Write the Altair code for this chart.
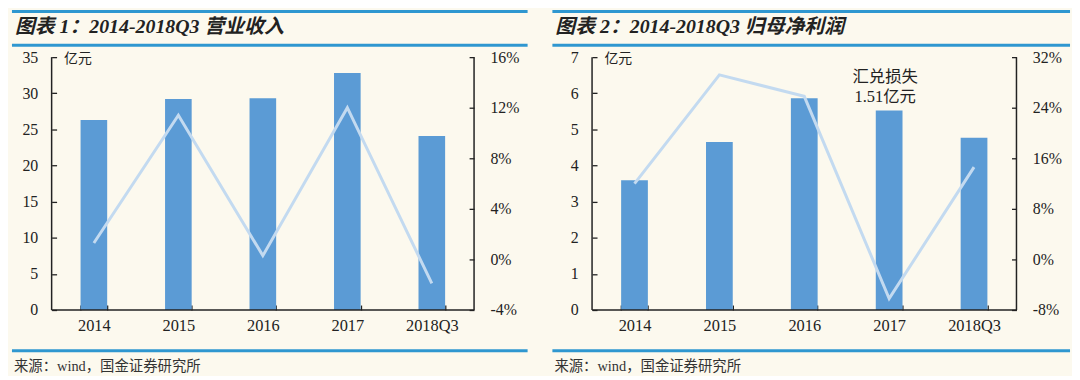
import altair as alt
import pandas as pd

cats = ["2014", "2015", "2016", "2017", "2018Q3"]
revenue = [26.3, 29.2, 29.3, 32.8, 24.1]
revenue_growth = [1.3, 11.4, 0.3, 12.0, -1.9]
profit = [3.59, 4.65, 5.86, 5.52, 4.77]
profit_growth = [12.0, 29.2, 25.8, -6.2, 14.6]
titles = ["图表 1：2014-2018Q3 营业收入", "图表 2：2014-2018Q3 归母净利润"]
source = "来源：wind，国金证券研究所"
unit = "亿元"
ann_cat = ["2017", "2017"]
ann_val = [6.45, 5.9]
ann_text = ["汇兑损失", "1.51亿元"]

SERIF = "Liberation Serif, Noto Sans CJK SC"
BAR = "#5B9BD5"
LINE = "#C3DAF0"
BLUE = "#2F97D0"
AX = "#222222"
H = 255


def panel(vals, growth, ymax, ystep, rmin, rmax, rstep, title, W, ann=None):
    df = pd.DataFrame({"cat": cats, "val": vals, "g": growth})
    xs = alt.Scale(domain=cats, paddingInner=0.685, paddingOuter=0.3425)
    xaxis = alt.Axis(title=None, labelAngle=0, labelFont=SERIF, labelFontSize=16.5,
                     labelColor=AX, tickBand="extent", tickSize=5, tickColor=AX,
                     tickWidth=1.3, offset=-5, domain=False, labelPadding=8, grid=False)
    yaxis = alt.Axis(values=list(range(0, ymax + 1, ystep)), title=unit, titleAngle=0,
                     titleAlign="left", titleBaseline="middle", titleX=7, titleY=1,
                     titleFont=SERIF, titleFontSize=14, titleFontWeight="normal",
                     titleColor=AX, labelFont=SERIF, labelFontSize=16, labelColor=AX,
                     tickSize=5, tickColor=AX, tickWidth=1.3, offset=-5, domain=False,
                     labelPadding=14, grid=False)
    raxis = alt.Axis(orient="right", values=list(range(rmin, rmax + 1, rstep)),
                     labelExpr="datum.value + '%'", title=None, labelFont=SERIF,
                     labelFontSize=16, labelColor=AX, tickSize=5, tickColor=AX,
                     tickWidth=1.3, offset=-5, domain=False, labelPadding=16, grid=False)
    ys = alt.Scale(domain=[0, ymax], nice=False)
    bars = alt.Chart(df).mark_bar(color=BAR).encode(
        x=alt.X("cat:N", scale=xs, axis=xaxis, sort=cats),
        y=alt.Y("val:Q", scale=ys, axis=yaxis),
    )
    left = bars
    if ann is not None:
        adf = pd.DataFrame({"cat": ann[0], "val": ann[1], "t": ann[2]})
        atext = alt.Chart(adf).mark_text(font=SERIF, fontSize=16.5, color=AX,
                                         baseline="middle", align="center", dx=-4).encode(
            x=alt.X("cat:N", scale=xs, axis=xaxis, sort=cats, bandPosition=0.5),
            y=alt.Y("val:Q", scale=ys, axis=yaxis),
            text="t:N",
        )
        left = alt.layer(bars, atext)
    line = alt.Chart(df).mark_line(color=LINE, strokeWidth=3).encode(
        x=alt.X("cat:N", scale=xs, axis=xaxis, sort=cats, bandPosition=0.5),
        y=alt.Y("g:Q", scale=alt.Scale(domain=[rmin, rmax], nice=False), axis=raxis),
    )
    one = pd.DataFrame({"k": [0]})
    base = alt.Chart(one)
    lrule = base.mark_rule(color=AX, strokeWidth=1.5).encode(
        x=alt.value(0), y=alt.value(0), y2=alt.value(H))
    rrule = base.mark_rule(color=AX, strokeWidth=1.5).encode(
        x=alt.value(W), y=alt.value(0), y2=alt.value(H))
    brule = base.mark_rule(color=AX, strokeWidth=1.5).encode(
        x=alt.value(0), x2=alt.value(W), y=alt.value(H))
    d1 = base.mark_rule(color=BLUE, strokeWidth=3).encode(
        x=alt.value(-40), x2=alt.value(W + 54), y=alt.value(-46))
    d2 = base.mark_rule(color=BLUE, strokeWidth=3).encode(
        x=alt.value(-40), x2=alt.value(W + 54), y=alt.value(-12))
    d3 = base.mark_rule(color=BLUE, strokeWidth=3).encode(
        x=alt.value(-40), x2=alt.value(W + 54), y=alt.value(H + 41))
    ttl = base.mark_text(align="left", baseline="middle", font=SERIF, fontSize=20,
                         fontStyle="italic", fontWeight="bold", color="#222").encode(
        x=alt.value(-37), y=alt.value(-30), text=alt.value(title))
    src = base.mark_text(align="left", baseline="middle", font=SERIF, fontSize=14.5,
                         color="#333").encode(
        x=alt.value(-38), y=alt.value(H + 58), text=alt.value(source))
    return alt.layer(left, line, lrule, rrule, brule, d1, d2, d3, ttl, src).resolve_scale(
        y="independent").properties(width=W, height=H)


p1 = panel(revenue, revenue_growth, 35, 5, -4, 16, 4, titles[0], 426)
p2 = panel(profit, profit_growth, 7, 1, -8, 32, 8, titles[1], 428,
           ann=(ann_cat, ann_val, ann_text))

chart = alt.hconcat(p1, p2, spacing=21).properties(
    background="#FCF9EE",
    padding={"left": 2, "top": 0, "right": 0, "bottom": 0},
).configure_view(strokeWidth=0)

chart.save("out.html", embed_options={"renderer": "svg", "actions": False})
